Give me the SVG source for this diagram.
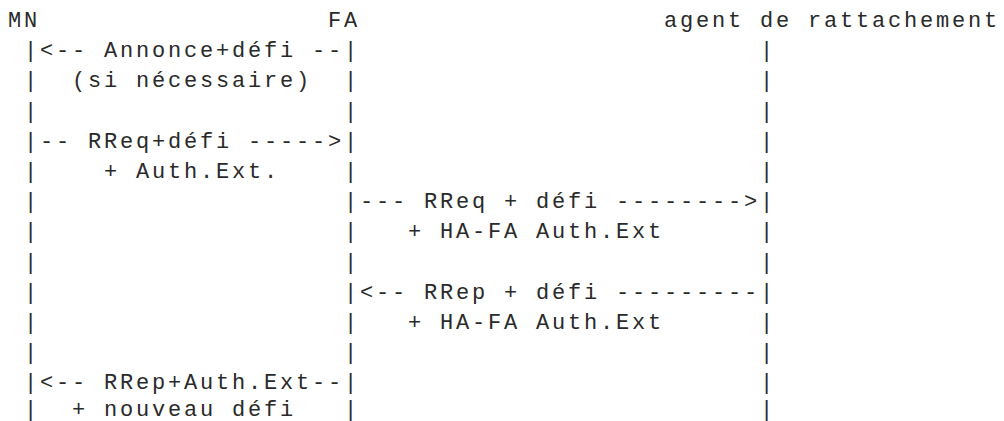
<svg xmlns="http://www.w3.org/2000/svg" width="1004" height="421" viewBox="0 0 1004 421">
  <style>
    .t { font-family: "Liberation Mono", "DejaVu Sans Mono", monospace; font-size: 22px; letter-spacing: 2.8px; fill: #2a2a2a; white-space: pre; }
  </style>
  <rect width="1004" height="421" fill="#fff"/>

  <!-- Mobile node: header and lifeline (column 1) -->
  <g id="node-mn">
    <text class="t" x="8" y="27">MN</text>
    <text class="t">
      <tspan x="24" y="57.2">|</tspan><tspan x="24" y="87.4">|</tspan><tspan x="24" y="117.6">|</tspan>
      <tspan x="24" y="147.8">|</tspan><tspan x="24" y="177.9">|</tspan><tspan x="24" y="208.1">|</tspan>
      <tspan x="24" y="238.3">|</tspan><tspan x="24" y="268.5">|</tspan><tspan x="24" y="298.7">|</tspan>
      <tspan x="24" y="328.9">|</tspan><tspan x="24" y="359.1">|</tspan><tspan x="24" y="389.3">|</tspan>
      <tspan x="24" y="416">|</tspan>
    </text>
  </g>

  <!-- Foreign agent: header and lifeline (column 21) -->
  <g id="node-fa">
    <text class="t" x="328" y="27">FA</text>
    <text class="t">
      <tspan x="344" y="57.2">|</tspan><tspan x="344" y="87.4">|</tspan><tspan x="344" y="117.6">|</tspan>
      <tspan x="344" y="147.8">|</tspan><tspan x="344" y="177.9">|</tspan><tspan x="344" y="208.1">|</tspan>
      <tspan x="344" y="238.3">|</tspan><tspan x="344" y="268.5">|</tspan><tspan x="344" y="298.7">|</tspan>
      <tspan x="344" y="328.9">|</tspan><tspan x="344" y="359.1">|</tspan><tspan x="344" y="389.3">|</tspan>
      <tspan x="344" y="416">|</tspan>
    </text>
  </g>

  <!-- Home agent: header and lifeline (column 47) -->
  <g id="node-ha">
    <text class="t" x="664" y="27">agent de rattachement</text>
    <text class="t">
      <tspan x="760" y="57.2">|</tspan><tspan x="760" y="87.4">|</tspan><tspan x="760" y="117.6">|</tspan>
      <tspan x="760" y="147.8">|</tspan><tspan x="760" y="177.9">|</tspan><tspan x="760" y="208.1">|</tspan>
      <tspan x="760" y="238.3">|</tspan><tspan x="760" y="268.5">|</tspan><tspan x="760" y="298.7">|</tspan>
      <tspan x="760" y="328.9">|</tspan><tspan x="760" y="359.1">|</tspan><tspan x="760" y="389.3">|</tspan>
      <tspan x="760" y="416">|</tspan>
    </text>
  </g>

  <!-- Messages exchanged between the lifelines -->
  <g id="connectors">
    <text class="t" x="40" y="57.2">&lt;-- Annonce+défi --</text>
    <text class="t" x="72" y="87.4">(si nécessaire)</text>
    <text class="t" x="40" y="147.8">-- RReq+défi -----&gt;</text>
    <text class="t" x="104" y="177.9">+ Auth.Ext.</text>
    <text class="t" x="360" y="208.1">--- RReq + défi --------&gt;</text>
    <text class="t" x="408" y="238.3">+ HA-FA Auth.Ext</text>
    <text class="t" x="360" y="298.7">&lt;-- RRep + défi ---------</text>
    <text class="t" x="408" y="328.9">+ HA-FA Auth.Ext</text>
    <text class="t" x="40" y="389.3">&lt;-- RRep+Auth.Ext--</text>
    <text class="t" x="72" y="416">+ nouveau défi</text>
  </g>
</svg>
